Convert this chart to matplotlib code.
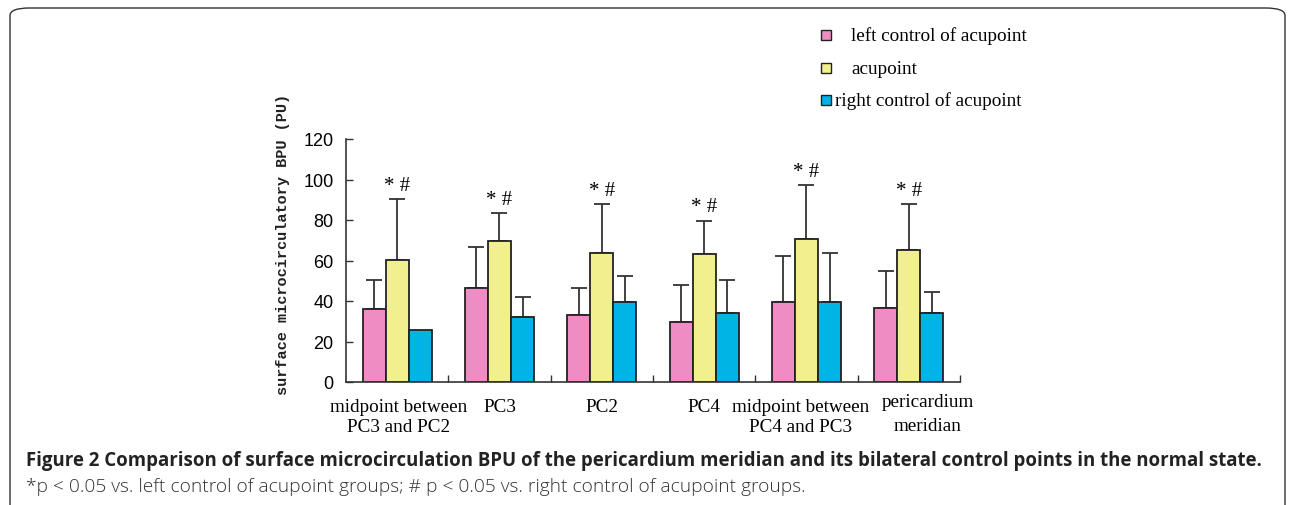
import matplotlib
matplotlib.use("Agg")
import matplotlib.pyplot as plt
import numpy as np
from matplotlib.patches import FancyBboxPatch, Rectangle

categories = ["midpoint between\nPC3 and PC2", "PC3", "PC2", "PC4",
              "midpoint between\nPC4 and PC3", "pericardium\nmeridian"]
series_names = ["left control of acupoint", "acupoint", "right control of acupoint"]
left_vals = [36.0, 46.4, 32.9, 29.8, 39.3, 36.5]
left_err = [14.4, 20.1, 13.4, 18.1, 23.1, 18.3]
acu_vals = [60.2, 69.8, 63.7, 63.0, 70.6, 65.3]
acu_err = [30.2, 13.7, 24.2, 16.7, 26.7, 22.4]
right_vals = [25.8, 32.3, 39.3, 34.2, 39.3, 34.2]
right_err = [0.0, 9.5, 12.9, 16.2, 24.2, 10.1]
yticks = [0, 20, 40, 60, 80, 100, 120]
sig_marks = ["* #"] * 6
colors = ["#F08CC4", "#F2F08C", "#00B4E6"]
caption_title = ("Figure 2 Comparison of surface microcirculation BPU of the pericardium "
                 "meridian and its bilateral control points in the normal state.")
caption_note = "*p < 0.05 vs. left control of acupoint groups; # p < 0.05 vs. right control of acupoint groups."

W, H = 1292, 506
fig = plt.figure(figsize=(W / 100, H / 100), dpi=100)
renderer = fig.canvas.get_renderer()

# rounded frame
fig.patches.append(FancyBboxPatch((10 / W, -20 / H), (W - 17) / W, (H + 11) / H,
                                  boxstyle="round,pad=0,rounding_size=0.015",
                                  transform=fig.transFigure, fill=False,
                                  edgecolor="#333333", linewidth=1.0))

ax = fig.add_axes([346 / W, (H - 383) / H, (960 - 346) / W, (383 - 140) / H])
x = np.arange(len(categories))
bw = 0.225
serif = ["Liberation Serif", "DejaVu Serif"]
for i, (vals, errs) in enumerate([(left_vals, left_err), (acu_vals, acu_err), (right_vals, right_err)]):
    pos = x + (i - 1) * bw
    ax.bar(pos, vals, width=bw, color=colors[i], edgecolor="#222222", linewidth=1.3, zorder=2)
    e = np.array(errs)
    mask = e > 0
    ax.errorbar(pos[mask], np.array(vals)[mask], yerr=[np.zeros(mask.sum()), e[mask]],
                fmt="none", ecolor="#333333", elinewidth=1.3, capsize=6, capthick=1.3, zorder=1)

for xi, v, e, s in zip(x, acu_vals, acu_err, sig_marks):
    ax.annotate(s, (xi, v + e), xytext=(0, 3), textcoords="offset points",
                ha="center", va="bottom", fontsize=15, family=serif)

ax.set_xlim(-0.5, 5.5)
ax.set_ylim(0, 120)
ax.set_yticks(yticks)
ax.set_yticklabels([str(t) for t in yticks], family=["Liberation Sans Narrow", "Liberation Sans"], fontsize=13)
ax.set_xticks(np.arange(0.5, 6, 1.0))
ax.set_xticklabels([])
ax.tick_params(axis="both", direction="in", length=5, width=1, color="#333333")
ax.tick_params(axis="y", pad=9)
for sp in ["top", "right"]:
    ax.spines[sp].set_visible(False)
for sp in ["left", "bottom"]:
    ax.spines[sp].set_linewidth(1.2)
    ax.spines[sp].set_color("#333333")

# category labels, line by line (pixel rows/offsets from the reference)
label_dx = [1, 0, 0, 0, -6, 19]
for xi, c, dx in zip(x, categories, label_dx):
    lines = c.split("\n")
    rows = [403, 427] if "pericardium" in c else [408, 428]
    for ln, ry in zip(lines, rows):
        ax.annotate(ln, (xi, 0), xytext=(dx * 0.72, -(ry - 383) * 0.72), textcoords="offset points",
                    ha="center", va="center", fontsize=13.8, family=serif)

fig.text(283 / W, (H - 244) / H, "surface microcirculatory BPU (PU)",
         family=["Liberation Mono", "DejaVu Sans Mono"], fontsize=11, fontweight="bold",
         rotation=90, ha="center", va="center", color="#222222")

# legend
ys = [36, 69, 101]
for name, col, yy in zip(series_names, colors, ys):
    fig.patches.append(Rectangle((821 / W, (H - yy - 5) / H), 10 / W, 10 / H,
                                 transform=fig.transFigure, facecolor=col,
                                 edgecolor="#222222", linewidth=1.0))
    xt = 851 if not name.startswith("right") else 835
    fig.text(xt / W, (H - yy) / H, name, family=serif, fontsize=13.8, va="center", ha="left")


def fitted_text(xp, yp, s, target_w, **kw):
    t = fig.text(xp / W, (H - yp) / H, s, va="center", ha="left", **kw)
    w = t.get_window_extent(renderer).width
    t.set_fontsize(t.get_fontsize() * target_w / w)
    return t


fitted_text(26, 461, caption_title, 1234, family=["Open Sans", "DejaVu Sans"],
            fontweight="bold", fontsize=12, color="#222222")
fitted_text(26, 487, caption_note, 777, family=["Open Sans", "DejaVu Sans"],
            fontweight="light", fontsize=12, color="#333333")

fig.savefig("out.png", dpi=100)
